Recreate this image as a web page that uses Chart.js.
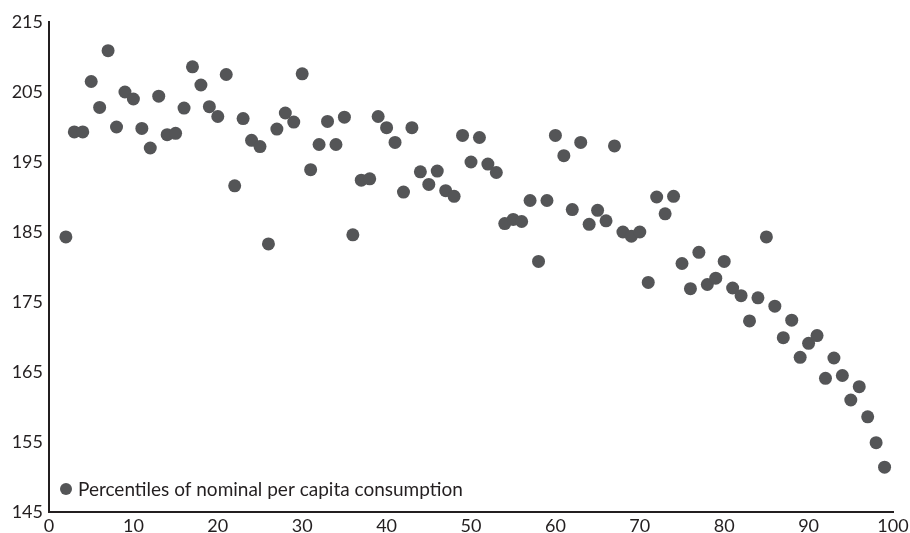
<!DOCTYPE html>
<html>
<head>
<meta charset="utf-8">
<script src="https://cdn.jsdelivr.net/npm/chart.js@4.4.1/dist/chart.umd.min.js"></script>
<style>
  html, body { margin: 0; padding: 0; background: #fff; }
  #wrap { position: relative; width: 910px; height: 533px; }
</style>
</head>
<body>
<div id="wrap"><canvas id="c" width="910" height="533"></canvas></div>
<script>
const seriesLabel = "Percentiles of nominal per capita consumption";
const percentiles = [2,3,4,5,6,7,8,9,10,11,12,13,14,15,16,17,18,19,20,21,22,23,24,25,26,27,28,29,30,31,32,33,34,35,36,37,38,39,40,41,42,43,44,45,46,47,48,49,50,51,52,53,54,55,56,57,58,59,60,61,62,63,64,65,66,67,68,69,70,71,72,73,74,75,76,77,78,79,80,81,82,83,84,85,86,87,88,89,90,91,92,93,94,95,96,97,98,99];
const consumption = [184.3,199.3,199.3,206.5,202.8,210.9,200.0,205.0,204.0,199.8,197.0,204.4,198.9,199.1,202.7,208.6,206.0,202.9,201.5,207.5,191.6,201.2,198.1,197.2,183.3,199.7,202.0,200.7,207.6,193.9,197.5,200.8,197.5,201.4,184.6,192.4,192.6,201.5,199.9,197.8,190.7,199.9,193.6,191.8,193.7,190.9,190.1,198.8,195.0,198.5,194.7,193.5,186.2,186.8,186.5,189.5,180.8,189.5,198.8,195.9,188.2,197.8,186.1,188.1,186.6,197.3,185.0,184.4,185.0,177.8,190.0,187.6,190.1,180.5,176.9,182.1,177.5,178.4,180.8,177.0,175.9,172.3,175.6,184.3,174.4,169.9,172.4,167.1,169.1,170.2,164.1,167.0,164.5,161.0,162.9,158.6,154.9,151.4];
const xTicks = [0,10,20,30,40,50,60,70,80,90,100];
const yTicks = [145,155,165,175,185,195,205,215];

const dotColor = '#545557';
const inkColor = '#231f20';
const fontFamily = 'Lato, "Open Sans", sans-serif';

const points = percentiles.map((p, i) => ({ x: p, y: consumption[i] }));

const insideLegend = {
  id: 'insideLegend',
  afterDraw(chart) {
    const ctx = chart.ctx;
    const ds = chart.data.datasets[0];
    const area = chart.chartArea;
    const cx = area.left + 17, cy = area.bottom - 23;
    ctx.save();
    ctx.fillStyle = ds.backgroundColor;
    ctx.beginPath();
    ctx.arc(cx, cy, 6, 0, Math.PI * 2);
    ctx.fill();
    ctx.fillStyle = inkColor;
    ctx.font = '19px ' + fontFamily;
    ctx.textBaseline = 'middle';
    ctx.textAlign = 'left';
    ctx.fillText(ds.label, cx + 12, cy + 1);
    ctx.restore();
  }
};

new Chart(document.getElementById('c'), {
  type: 'scatter',
  data: {
    datasets: [{
      label: seriesLabel,
      data: points,
      backgroundColor: dotColor,
      borderColor: dotColor,
      borderWidth: 0,
      pointRadius: 6.5,
      pointHoverRadius: 6.5
    }]
  },
  options: {
    responsive: false,
    animation: false,
    devicePixelRatio: 1,
    layout: { padding: { top: 22, right: 17, left: 0, bottom: 0 } },
    plugins: {
      legend: { display: false },
      tooltip: { enabled: false }
    },
    scales: {
      x: {
        type: 'linear',
        min: 0, max: 100,
        afterBuildTicks(axis) { axis.ticks = xTicks.map(v => ({ value: v })); },
        afterFit(axis) { axis.height = 21; axis.paddingRight = 0; axis.paddingLeft = 0; },
        grid: { display: false, drawTicks: false },
        border: { display: true, color: inkColor, width: 2 },
        ticks: { color: inkColor, padding: 3, maxRotation: 0, font: { family: fontFamily, size: 18 } }
      },
      y: {
        type: 'linear',
        min: 145, max: 215,
        afterBuildTicks(axis) { axis.ticks = yTicks.map(v => ({ value: v })); },
        afterFit(axis) { axis.width = 49; },
        grid: { display: false, drawTicks: false },
        border: { display: true, color: inkColor, width: 2 },
        ticks: { color: inkColor, padding: 6, font: { family: fontFamily, size: 18 } }
      }
    }
  },
  plugins: [insideLegend]
});
</script>
</body>
</html>
